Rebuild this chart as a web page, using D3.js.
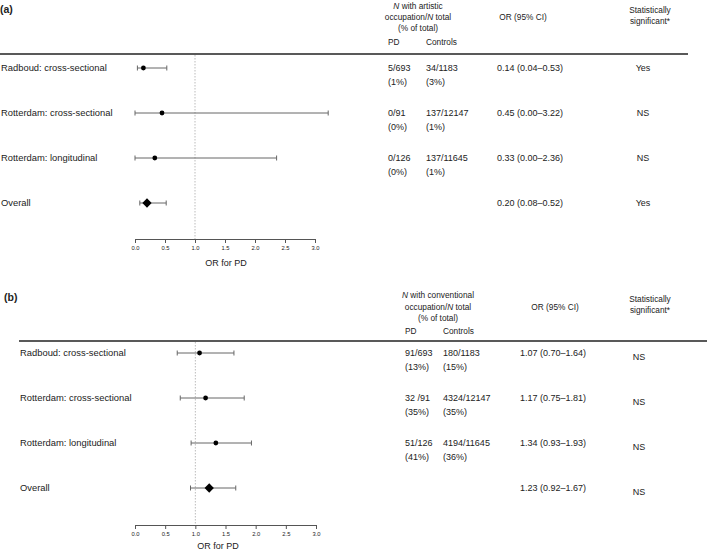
<!DOCTYPE html>
<html><head><meta charset="utf-8">
<script src="https://cdn.jsdelivr.net/npm/d3@7"></script>
<style>body{margin:0;background:#fff}svg{display:block}text{font-family:"Liberation Sans",Arial,sans-serif;fill:#222}</style>
</head><body><svg id="c" width="709" height="552"></svg>
<script>
// ---------- data ----------
const studies = ["Radboud: cross-sectional", "Rotterdam: cross-sectional", "Rotterdam: longitudinal", "Overall"];
const ticks = [0, 0.5, 1, 1.5, 2, 2.5, 3];

const artOR = [0.14, 0.45, 0.33, 0.20];
const artLo = [0.04, 0.00, 0.00, 0.08];
const artHi = [0.53, 3.22, 2.36, 0.52];
const artPD = [["5/693", "(1%)"], ["0/91", "(0%)"], ["0/126", "(0%)"], null];
const artCtrl = [["34/1183", "(3%)"], ["137/12147", "(1%)"], ["137/11645", "(1%)"], null];
const artCI = ["0.14 (0.04–0.53)", "0.45 (0.00–3.22)", "0.33 (0.00–2.36)", "0.20 (0.08–0.52)"];
const artSig = ["Yes", "NS", "NS", "Yes"];

const conOR = [1.07, 1.17, 1.34, 1.23];
const conLo = [0.70, 0.75, 0.93, 0.92];
const conHi = [1.64, 1.81, 1.93, 1.67];
const conPD = [["91/693", "(13%)"], ["32 /91", "(35%)"], ["51/126", "(41%)"], null];
const conCtrl = [["180/1183", "(15%)"], ["4324/12147", "(35%)"], ["4194/11645", "(36%)"], null];
const conCI = ["1.07 (0.70–1.64)", "1.17 (0.75–1.81)", "1.34 (0.93–1.93)", "1.23 (0.92–1.67)"];
const conSig = ["NS", "NS", "NS", "NS"];

const svg = d3.select("#c");

function panel(cfg) {
  const g = svg.append("g");
  const x = d3.scaleLinear().domain([0, 3]).range(cfg.xr);
  const y = d3.scalePoint().domain(studies).range(cfg.yr);
  g.append("text").attr("x", cfg.labX).attr("y", cfg.labY).attr("font-size", 10.5).attr("font-weight", "bold").text(cfg.label);
  g.append("line").attr("x1", cfg.lineX[0]).attr("x2", cfg.lineX[1]).attr("y1", cfg.lineY).attr("y2", cfg.lineY)
    .attr("stroke", "#222").attr("stroke-width", 1.4);
  const hs = 8.3;
  const h1 = g.append("text").attr("x", cfg.hNx).attr("y", cfg.hY[0]).attr("text-anchor", "middle").attr("font-size", hs);
  h1.append("tspan").attr("font-style", "italic").text("N");
  h1.append("tspan").text(cfg.hWord);
  const h2 = g.append("text").attr("x", cfg.hNx).attr("y", cfg.hY[1]).attr("text-anchor", "middle").attr("font-size", hs);
  h2.append("tspan").text("occupation/");
  h2.append("tspan").attr("font-style", "italic").text("N");
  h2.append("tspan").text(" total");
  g.append("text").attr("x", cfg.hNx).attr("y", cfg.hY[2]).attr("text-anchor", "middle").attr("font-size", hs).text("(% of total)");
  g.append("text").attr("x", cfg.pdX).attr("y", cfg.hY[3]).attr("font-size", hs).text("PD");
  g.append("text").attr("x", cfg.ctX).attr("y", cfg.hY[3]).attr("font-size", hs).text("Controls");
  g.append("text").attr("x", cfg.orHx).attr("y", cfg.hY[1]).attr("text-anchor", "middle").attr("font-size", hs).text("OR (95% CI)");
  g.append("text").attr("x", cfg.sigHx).attr("y", cfg.sY[0]).attr("text-anchor", "middle").attr("font-size", hs).text("Statistically");
  g.append("text").attr("x", cfg.sigHx).attr("y", cfg.sY[1]).attr("text-anchor", "middle").attr("font-size", hs).text("significant*");

  g.append("line").attr("x1", x(1)).attr("x2", x(1)).attr("y1", cfg.lineY + 1).attr("y2", cfg.axisY)
    .attr("stroke", "#bbb").attr("stroke-width", 1).attr("stroke-dasharray", "1.5,1.5");

  const ax = g.append("g").attr("transform", `translate(0,${cfg.axisY})`)
    .call(d3.axisBottom(x).tickValues(ticks).tickSize(4).tickSizeOuter(0).tickFormat(d3.format(".1f")));
  ax.select(".domain").attr("stroke", "#555");
  ax.selectAll(".tick line").attr("stroke", "#555");
  ax.selectAll(".tick text").attr("font-size", 5.8).attr("fill", "#333").attr("y", 7)
    .attr("font-family", "Liberation Sans, Arial, sans-serif");
  g.append("text").attr("x", cfg.orLabX).attr("y", cfg.orLabY).attr("text-anchor", "middle").attr("font-size", 9).text("OR for PD");

  studies.forEach((s, i) => {
    const yy = y(s);
    g.append("text").attr("x", cfg.rowX).attr("y", yy + 3).attr("font-size", 9.4).text(s);
    g.append("line").attr("x1", x(cfg.lo[i])).attr("x2", x(cfg.hi[i])).attr("y1", yy).attr("y2", yy)
      .attr("stroke", "#666").attr("stroke-width", 1);
    [cfg.lo[i], cfg.hi[i]].forEach(v => g.append("line").attr("x1", x(v)).attr("x2", x(v))
      .attr("y1", yy - 2.5).attr("y2", yy + 2.5).attr("stroke", "#666").attr("stroke-width", 1));
    if (i < 3) {
      g.append("circle").attr("cx", x(cfg.or[i])).attr("cy", yy).attr("r", 2.4).attr("fill", "#000");
    } else {
      g.append("path").attr("d", d3.symbol(d3.symbolDiamond2, 55)()).attr("transform", `translate(${x(cfg.or[i])},${yy})`).attr("fill", "#000");
    }
    if (cfg.pd[i]) {
      g.append("text").attr("x", cfg.pdX).attr("y", yy + 2.5).attr("font-size", 9).text(cfg.pd[i][0]);
      g.append("text").attr("x", cfg.pdX).attr("y", yy + 16.5).attr("font-size", 9).text(cfg.pd[i][1]);
      g.append("text").attr("x", cfg.ctX).attr("y", yy + 2.5).attr("font-size", 9).text(cfg.ct[i][0]);
      g.append("text").attr("x", cfg.ctX).attr("y", yy + 16.5).attr("font-size", 9).text(cfg.ct[i][1]);
    }
    g.append("text").attr("x", cfg.ciX).attr("y", yy + 2.5).attr("font-size", 9).text(cfg.ci[i]);
    g.append("text").attr("x", cfg.sigX).attr("y", yy + cfg.sigDy).attr("text-anchor", "middle").attr("font-size", 9).text(cfg.sig[i]);
  });
}

panel({
  label: "(a)", labX: 0, labY: 13,
  xr: [135, 315], yr: [68, 203], axisY: 239,
  lineX: [0, 688], lineY: 54,
  hWord: " with artistic", hNx: 418, hY: [9, 20, 31, 45], pdX: 388, ctX: 426, orHx: 523, sigHx: 650, sY: [13, 24],
  orLabX: 226, orLabY: 266, rowX: 1,
  or: artOR, lo: artLo, hi: artHi, pd: artPD, ct: artCtrl, ci: artCI, sig: artSig,
  ciX: 497, sigX: 643, sigDy: 3
});
panel({
  label: "(b)", labX: 4, labY: 301,
  xr: [135, 316], yr: [353, 488], axisY: 525,
  lineX: [19, 707], lineY: 341,
  hWord: " with conventional", hNx: 438, hY: [298, 310, 321, 334], pdX: 405, ctX: 443, orHx: 555, sigHx: 650, sY: [302, 313],
  orLabX: 218, orLabY: 549, rowX: 20,
  or: conOR, lo: conLo, hi: conHi, pd: conPD, ct: conCtrl, ci: conCI, sig: conSig,
  ciX: 520, sigX: 639, sigDy: 7
});
</script></body></html>
